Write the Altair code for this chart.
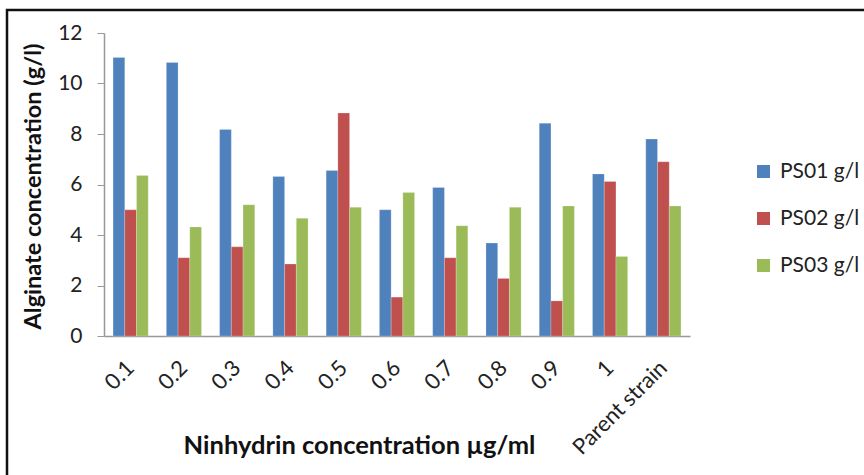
import altair as alt
import pandas as pd

categories = ["0.1", "0.2", "0.3", "0.4", "0.5", "0.6", "0.7", "0.8", "0.9", "1", "Parent strain"]
series = ["PS01 g/l", "PS02 g/l", "PS03 g/l"]
ps01 = [11.03, 10.83, 8.18, 6.32, 6.55, 5.0, 5.88, 3.68, 8.43, 6.42, 7.8]
ps02 = [5.0, 3.1, 3.53, 2.85, 8.83, 1.54, 3.1, 2.28, 1.39, 6.12, 6.9]
ps03 = [6.36, 4.32, 5.2, 4.66, 5.1, 5.68, 4.37, 5.1, 5.15, 3.15, 5.15]
colors = ["#4F81BD", "#C0504D", "#9BBB59"]

rows = []
for s, vals in zip(series, [ps01, ps02, ps03]):
    for c, v in zip(categories, vals):
        rows.append({"cat": c, "series": s, "value": v})
df = pd.DataFrame(rows)

FONT = "Lato"

bars = alt.Chart(df).mark_bar(stroke="#ffffff", strokeOpacity=0.35, strokeWidth=0.6).encode(
    x=alt.X("cat:N", sort=categories,
            scale=alt.Scale(paddingInner=0.34, paddingOuter=0.17),
            axis=alt.Axis(title="Ninhydrin concentration µg/ml", labelAngle=-45,
                          labelAlign="right", labelBaseline="middle", labelPadding=28,
                          labelFontSize=22, labelFont=FONT, labelColor="#222222",
                          ticks=False, domainColor="#999999", domainWidth=1.5,
                          titleFont=FONT, titleFontSize=25.5, titleFontWeight="bold",
                          titleColor="#111111", titleX=255, titleY=109,
                          titleAnchor="middle", titleBaseline="middle")),
    xOffset=alt.XOffset("series:N", sort=series, scale=alt.Scale(paddingInner=0, paddingOuter=0)),
    y=alt.Y("value:Q", scale=alt.Scale(domain=[0, 12], nice=False),
            axis=alt.Axis(title="Alginate concentration (g/l)", values=[0, 2, 4, 6, 8, 10, 12],
                          grid=False, tickSize=7, tickColor="#999999", domainColor="#999999",
                          domainWidth=1.5, labelFontSize=21, labelFont=FONT, labelColor="#222222",
                          labelPadding=15,
                          titleFont=FONT, titleFontSize=23.5, titleFontWeight="bold",
                          titleColor="#111111", titleX=-71, titleY=153,
                          titleAnchor="middle", titleBaseline="middle")),
    color=alt.Color("series:N", sort=series, scale=alt.Scale(domain=series, range=colors),
                    legend=alt.Legend(title=None, orient="none", legendX=649, legendY=128,
                                      symbolType="square", symbolSize=170, symbolStrokeWidth=0,
                                      labelFontSize=21, labelFont=FONT, labelColor="#222222",
                                      rowPadding=25, labelOffset=6, labelLimit=200)),
)

frame = alt.Chart(pd.DataFrame({"a": [0]})).mark_rect(
    fill=None, stroke="#111111", strokeWidth=2.5
).encode(x=alt.value(-97), x2=alt.value(900), y=alt.value(-23), y2=alt.value(480))

chart = alt.layer(frame, bars).properties(
    width=586, height=303,
    autosize=alt.AutoSizeParams(type="none"),
    padding={"left": 104, "top": 33, "right": 174, "bottom": 139},
    background="white",
).configure_view(stroke=None)

chart.save("out.html", embed_options={"renderer": "svg", "actions": False})
